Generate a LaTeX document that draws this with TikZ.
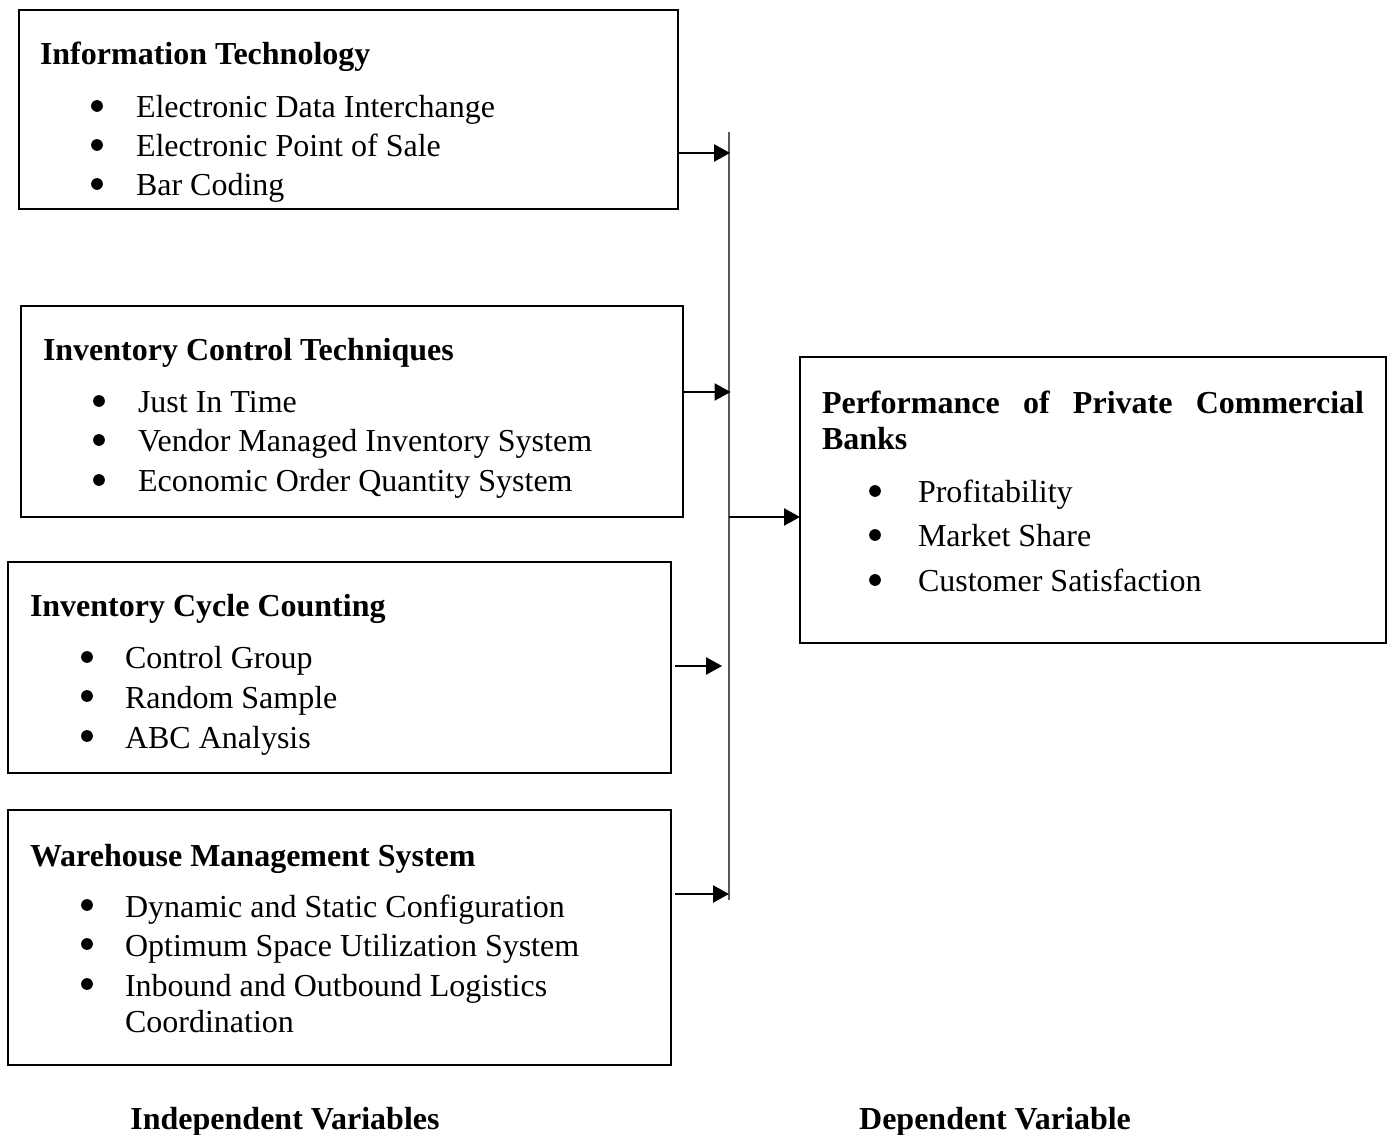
\documentclass[tikz,border=0pt]{standalone}
\usepackage{fontspec}
\setmainfont{Liberation Serif}
\usetikzlibrary{fit,arrows.meta}
\begin{document}
\begin{tikzpicture}[x=0.375pt,y=-0.375pt,
  every node/.style={font=\fontsize{12}{13.5}\selectfont, inner sep=0pt, outer sep=0pt},
  box/.style={draw=black, line width=0.8pt, inner sep=0pt, rectangle},
  ttl/.style={anchor=base west, font=\fontsize{12}{13.5}\selectfont\bfseries},
  itm/.style={anchor=base west},
  bul/.style={circle, fill=black, draw=none, minimum size=4.4pt, inner sep=0pt},
  arr/.style={line width=0.8pt, -{Triangle[length=6pt,width=6.4pt]}},
  busline/.style={line width=0.8pt, draw=black!65}]
\useasboundingbox (0,0) rectangle (1390,1135);

% boxes
\node[box, fit={(19,10) (678,209)}] (it) {};
\node[box, fit={(21,306) (683,517)}] (ict) {};
\node[box, fit={(8,562) (671,773)}] (icc) {};
\node[box, fit={(8,810) (671,1065)}] (wms) {};
\node[box, fit={(800,357) (1386,643)}] (perf) {};

% Information Technology
\node[ttl] (itT) at (40,65) {Information Technology};
\node[bul] (itB1) at (97,106) {};
\node[itm] (it1) at (136,118) {Electronic Data Interchange};
\node[bul] (itB2) at (97,145) {};
\node[itm] (it2) at (136,157) {Electronic Point of Sale};
\node[bul] (itB3) at (97,184) {};
\node[itm] (it3) at (136,196) {Bar Coding};

% Inventory Control Techniques
\node[ttl] (ictT) at (43,361) {Inventory Control Techniques};
\node[bul] (ictB1) at (99,401) {};
\node[itm] (ict1) at (138,413) {Just In Time};
\node[bul] (ictB2) at (99,440) {};
\node[itm] (ict2) at (138,452) {Vendor Managed Inventory System};
\node[bul] (ictB3) at (99,480) {};
\node[itm] (ict3) at (138,492) {Economic Order Quantity System};

% Inventory Cycle Counting
\node[ttl] (iccT) at (30,617) {Inventory Cycle Counting};
\node[bul] (iccB1) at (87,657) {};
\node[itm] (icc1) at (125,669) {Control Group};
\node[bul] (iccB2) at (87,696) {};
\node[itm] (icc2) at (125,708) {Random Sample};
\node[bul] (iccB3) at (87,736) {};
\node[itm] (icc3) at (125,748) {ABC Analysis};

% Warehouse Management System
\node[ttl] (wmsT) at (30,866) {Warehouse Management System};
\node[bul] (wmsB1) at (87,905) {};
\node[itm] (wms1) at (125,917) {Dynamic and Static Configuration};
\node[bul] (wmsB2) at (87,944) {};
\node[itm] (wms2) at (125,956) {Optimum Space Utilization System};
\node[bul] (wmsB3) at (87,984) {};
\node[itm] (wms3) at (125,996) {Inbound and Outbound Logistics};
\node[itm] (wms4) at (125,1032) {Coordination};

% Performance
\node[ttl] (perfT1) at (822,414) {\makebox[203.25pt][s]{Performance of Private Commercial}};
\node[ttl] (perfT2) at (822,450) {Banks};
\node[bul] (perfB1) at (875,491) {};
\node[itm] (perf1) at (918,503) {Profitability};
\node[bul] (perfB2) at (875,535) {};
\node[itm] (perf2) at (918,547) {Market Share};
\node[bul] (perfB3) at (875,580) {};
\node[itm] (perf3) at (918,592) {Customer Satisfaction};

% bottom labels
\node[ttl, anchor=base] (indep) at (285,1129) {Independent Variables};
\node[ttl, anchor=base] (dep) at (995,1129) {Dependent Variable};

% bus and arrows
\coordinate (bus) at (729,132);
\coordinate (busend) at (729,900);
\draw[busline] (bus) -- (busend);
\draw[arr] (it.east |- 0,153) -- ([xshift=0.4pt]bus |- 0,153);
\draw[arr] (ict.east |- 0,392) -- ([xshift=0.6pt]bus |- 0,392);
\draw[arr] ([xshift=1.5pt]icc.east |- 0,666) -- ([xshift=-2.6pt]bus |- 0,666);
\draw[arr] ([xshift=1.5pt]wms.east |- 0,894) -- (bus |- 0,894);
\draw[arr] (bus |- 0,517) -- (perf.west |- 0,517);
\end{tikzpicture}
\end{document}
